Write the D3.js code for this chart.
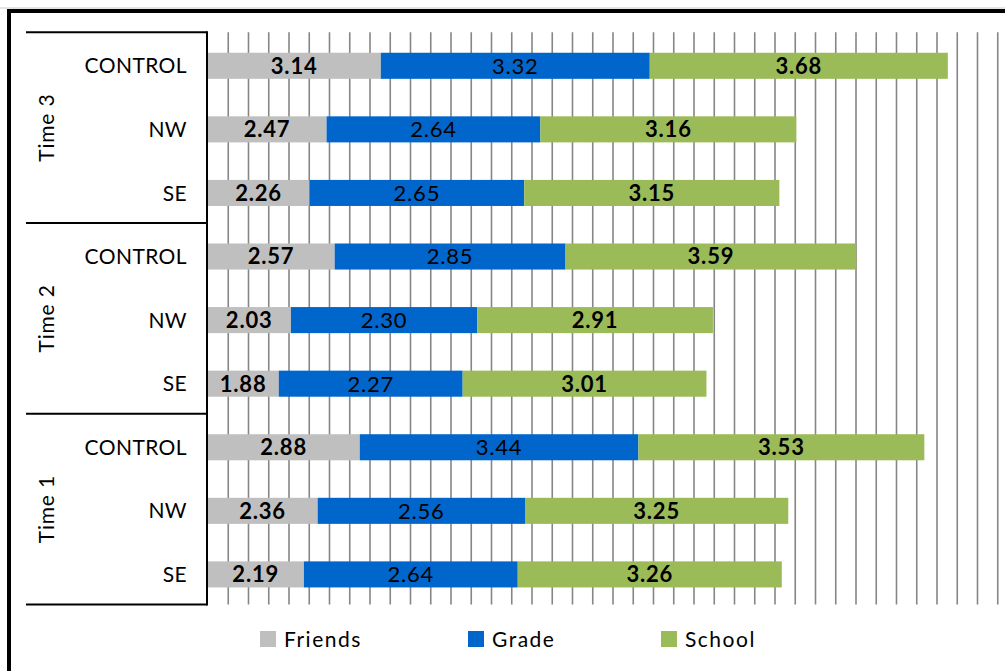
<!DOCTYPE html>
<html><head><meta charset="utf-8">
<script src="https://cdn.jsdelivr.net/npm/d3@7"></script>
<style>
html,body{margin:0;padding:0;background:#fff;}
svg{display:block;font-family:Lato,"Open Sans",sans-serif;}
</style></head>
<body>
<svg id="chart" width="1005" height="671"></svg>
<script>
const groups = ["Time 3", "Time 2", "Time 1"];
const categories = ["CONTROL", "NW", "SE"];
const seriesNames = ["Friends", "Grade", "School"];
const friends = [3.14, 2.47, 2.26, 2.57, 2.03, 1.88, 2.88, 2.36, 2.19];
const grade   = [3.32, 2.64, 2.65, 2.85, 2.30, 2.27, 3.44, 2.56, 2.64];
const school  = [3.68, 3.16, 3.15, 3.59, 2.91, 3.01, 3.53, 3.25, 3.26];
const axisMin = 1, axisMax = 11, gridStep = 0.25;

(function () {
const colors = {Friends: "#BFBFBF", Grade: "#0066CC", School: "#9BBB59"};
const bold = {Friends: true, Grade: false, School: true};

const rows = [];
groups.forEach((g, gi) => categories.forEach((c, ci) => {
  const i = gi * categories.length + ci;
  rows.push({key: g + "|" + c, group: g, cat: c, Friends: friends[i], Grade: grade[i], School: school[i]});
}));

const svg = d3.select("#chart");
const pLeft = 207.5, pTop = 32.3, pBottom = 604.5, axisLeftEdge = 26;

// outer frame
svg.append("line").attr("x1", 0).attr("x2", 1005).attr("y1", 8).attr("y2", 8)
  .attr("stroke", "#c8c8c8").attr("stroke-width", 1);
svg.append("path").attr("d", `M9,671 V11 H1005`).attr("fill", "none")
  .attr("stroke", "#000").attr("stroke-width", 4);

const x = d3.scaleLinear().domain([axisMin, axisMax]).range([pLeft, pLeft + 81 * (axisMax - axisMin)]).clamp(true);
const y = d3.scaleBand().domain(rows.map(r => r.key)).range([pTop + 1.7, pBottom + 1.7]).paddingInner(0.59).paddingOuter(0.295);

// gridlines
const gridVals = d3.range(axisMin + gridStep, axisMax, gridStep);
const grid = svg.append("g").attr("transform", `translate(0,${pTop})`)
  .call(d3.axisTop(x).tickValues(gridVals).tickSize(-(pBottom - pTop)).tickFormat(""));
grid.select(".domain").remove();
grid.selectAll(".tick line").attr("stroke", "#868686").attr("stroke-width", 1.6);

// stacked bars
const stack = d3.stack().keys(seriesNames)(rows);
const layers = svg.append("g").selectAll("g").data(stack).join("g")
  .attr("fill", d => colors[d.key]);
layers.selectAll("rect").data(d => d).join("rect")
  .attr("x", d => x(Math.max(d[0], axisMin)))
  .attr("width", d => x(d[1]) - x(Math.max(d[0], axisMin)))
  .attr("y", d => y(d.data.key))
  .attr("height", y.bandwidth());

// value labels
const fmt = d3.format(".2f");
stack.forEach(layer => {
  svg.append("g").selectAll("text").data(layer).join("text")
    .attr("x", d => (x(Math.max(d[0], axisMin)) + x(d[1])) / 2)
    .attr("y", d => y(d.data.key) + y.bandwidth() / 2)
    .attr("dy", "0.36em")
    .attr("text-anchor", "middle")
    .attr("font-size", 22)
    .attr("font-weight", bold[layer.key] ? 700 : 400)
    .attr("letter-spacing", 0.8)
    .attr("fill", "#000")
    .text(d => fmt(d.data[layer.key]));
});

// category axis box
const ax = svg.append("g").attr("stroke", "#000").attr("stroke-width", 2).attr("fill", "none");
ax.append("line").attr("x1", pLeft - 0.5).attr("x2", pLeft - 0.5).attr("y1", pTop - 1).attr("y2", pBottom + 1);
const gStep = (pBottom - pTop) / groups.length;
d3.range(groups.length + 1).forEach(i => {
  ax.append("line").attr("x1", axisLeftEdge).attr("x2", pLeft - 0.5)
    .attr("y1", pTop + i * gStep).attr("y2", pTop + i * gStep);
});

svg.append("g").selectAll("text").data(rows).join("text")
  .attr("x", 187).attr("y", d => y(d.key) + y.bandwidth() / 2)
  .attr("dy", "0.36em").attr("text-anchor", "end")
  .attr("font-size", 21).attr("letter-spacing", 0.4).attr("fill", "#000")
  .text(d => d.cat);

svg.append("g").selectAll("text").data(groups).join("text")
  .attr("transform", (d, i) => `translate(46,${pTop + (i + 0.5) * gStep}) rotate(-90)`)
  .attr("dy", "0.36em").attr("text-anchor", "middle")
  .attr("font-size", 21).attr("letter-spacing", 0.8).attr("fill", "#000")
  .text(d => d);

// legend
const legendX = [260, 468, 661];
const leg = svg.append("g").selectAll("g").data(seriesNames).join("g")
  .attr("transform", (d, i) => `translate(${legendX[i]},631)`);
leg.append("rect").attr("width", 16).attr("height", 16).attr("fill", d => colors[d]);
leg.append("text").attr("x", 24).attr("y", 8).attr("dy", "0.36em")
  .attr("font-size", 21).attr("letter-spacing", 1.5).attr("fill", "#000").text(d => d);
})();
</script>
</body></html>
